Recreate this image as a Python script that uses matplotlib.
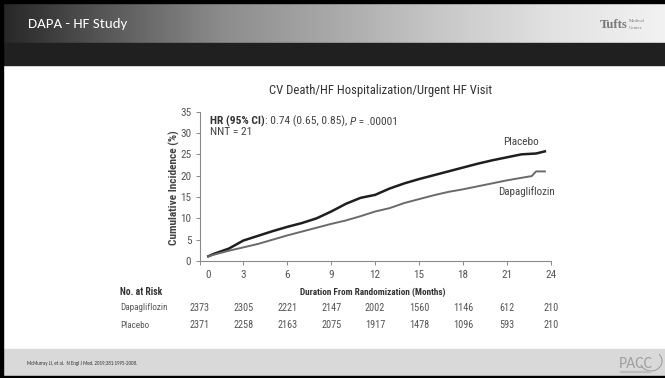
import numpy as np
import matplotlib
matplotlib.use("Agg")
import matplotlib.pyplot as plt
import matplotlib.transforms as mtransforms
from matplotlib import font_manager as fm
from matplotlib.colors import LinearSegmentedColormap
from matplotlib.patches import Rectangle, Arc

# ---- data -------------------------------------------------------------
months_placebo = [0.6, 1, 2, 3, 4, 5, 6, 7, 8, 9, 10, 11, 12, 13, 14, 15,
                  16, 17, 18, 19, 20, 21, 22, 23, 23.6]
placebo = [1.1, 1.7, 2.9, 4.8, 5.9, 7.0, 8.0, 8.9, 10.0, 11.6, 13.4, 14.8,
           15.5, 17.0, 18.2, 19.2, 20.1, 21.0, 21.9, 22.8, 23.6, 24.3,
           25.0, 25.2, 25.7]

months_dapa = [0.6, 1, 2, 3, 4, 5, 6, 7, 8, 9, 10, 11, 12, 13, 14, 15, 16,
               17, 18, 19, 20, 21, 22, 22.7, 23.0, 23.6]
dapagliflozin = [1.1, 1.5, 2.4, 3.2, 4.0, 5.0, 6.0, 6.9, 7.8, 8.7, 9.5, 10.5,
                 11.6, 12.4, 13.6, 14.5, 15.4, 16.2, 16.8, 17.5, 18.2, 18.9,
                 19.5, 19.9, 21.0, 21.0]

x_ticks = [0, 3, 6, 9, 12, 15, 18, 21, 24]
y_ticks = [0, 5, 10, 15, 20, 25, 30, 35]
risk_dapa = [2373, 2305, 2221, 2147, 2002, 1560, 1146, 612, 210]
risk_placebo = [2371, 2258, 2163, 2075, 1917, 1478, 1096, 593, 210]

# ---- fonts ------------------------------------------------------------
installed = {f.name for f in fm.fontManager.ttflist}


def pick(*cands):
    for c in cands:
        if c in installed:
            return [c, "DejaVu Sans"]
    return ["DejaVu Sans"]


COND = pick("Liberation Sans Narrow", "Roboto Condensed", "Archivo Narrow",
            "Asap Condensed", "Roboto")
SLIDE = pick("Carlito", "Calibri", "Lato", "Open Sans")
SERIF = pick("Liberation Serif", "DejaVu Serif")

# ---- figure -----------------------------------------------------------
W, H = 665, 378
fig = plt.figure(figsize=(W / 100, H / 100), dpi=100)
fig.patch.set_facecolor("white")
renderer = fig.canvas.get_renderer()


def fx(px):
    return px / W


def fy(py):
    return 1 - py / H


def fit(t, width_px):
    """Scale a text's font size so that it spans the given width."""
    w = t.get_window_extent(renderer).width
    if w > 0:
        t.set_fontsize(t.get_fontsize() * width_px / w)
    return t


# slide background layer
bg = fig.add_axes([0, 0, 1, 1], zorder=-5)
bg.set_xlim(0, W)
bg.set_ylim(H, 0)
bg.axis("off")

grad = LinearSegmentedColormap.from_list(
    "hdr", ["#262626", "#5a5a5a", "#8c8c8c", "#a9a9a9", "#c8c8c8",
            "#e2e2e2", "#f2f2f2"])
bg.imshow(np.linspace(0, 1, 256)[None, :], cmap=grad, aspect="auto",
          extent=(0, W, 43, 3), zorder=0)
bg.add_patch(Rectangle((0, 43), W, 22, color="#202020", zorder=1))
bg.add_patch(Rectangle((0, 0), W, 3, color="black", zorder=2))
bg.add_patch(Rectangle((0, 349), W, 27, color="#d9d9d9", zorder=1))
bg.add_patch(Rectangle((0, 376), W, 2, color="black", zorder=2))
bg.add_patch(Rectangle((0, 0), 3, H, color="black", zorder=2))

fit(bg.text(28, 24, "DAPA - HF Study", color="white", fontsize=11.5,
            family=SLIDE, va="center", ha="left"), 100)
fit(bg.text(600, 25, "Tufts", color="#7a7a7a", fontsize=9.5,
            fontweight="bold", family=SERIF, va="center", ha="left"), 28)
fit(bg.text(628.5, 21, "Medical", color="#7a7a7a", fontsize=3.6,
            family=SERIF, va="center", ha="left"), 16)
fit(bg.text(628.5, 28, "Center", color="#7a7a7a", fontsize=3.6,
            family=SERIF, va="center", ha="left"), 13)

fit(bg.text(27, 363, "McMurray JJ, et al.  N Engl J Med. 2019;381:1995-2008.",
            color="#333333", fontsize=3.8, family=SLIDE, va="center",
            ha="left"), 111)
fit(bg.text(619, 364, "PACC", color="#a0a0a0", fontsize=10, family=SLIDE,
            va="center", ha="left"), 34)
bg.add_patch(Arc((651, 361), 22, 20, theta1=-40, theta2=160,
                 color="#a0a0a0", lw=0.8, zorder=3))
bg.add_patch(Rectangle((620, 371), 30, 1.2, color="#bdbdbd", zorder=3))

# ---- chart ------------------------------------------------------------
x0, x24 = 199.5, 550.7
y0, y35 = 261.0, 111.7
ax = fig.add_axes([fx(x0), fy(y0), (x24 - x0) / W, (y0 - y35) / H])
ax.set_xlim(0, 24)
ax.set_ylim(0, 35)
ax.patch.set_alpha(0)

ax.plot(months_placebo, placebo, color="#1e1e1e", lw=1.8,
        solid_joinstyle="round")
ax.plot(months_dapa, dapagliflozin, color="#6a6a6a", lw=1.4,
        solid_joinstyle="round")

for side in ("top", "right"):
    ax.spines[side].set_visible(False)
for side in ("left", "bottom"):
    ax.spines[side].set_color("#8a8a8a")
    ax.spines[side].set_linewidth(0.8)

ax.set_xticks(x_ticks)
ax.set_yticks(y_ticks)
ax.set_xticklabels([str(v) for v in x_ticks])
ax.set_yticklabels([str(v) for v in y_ticks])
ax.tick_params(axis="both", direction="out", length=3, width=0.7,
               color="#8a8a8a", labelcolor="#555555", labelsize=8.0)
ax.tick_params(axis="x", pad=3.5)
ax.tick_params(axis="y", pad=3)
for lab in ax.get_xticklabels() + ax.get_yticklabels():
    lab.set_family(COND)

zero_lab = ax.get_xticklabels()[0]
zero_lab.set_transform(zero_lab.get_transform() +
                       mtransforms.ScaledTranslation(9 / 100, 0,
                                                     fig.dpi_scale_trans))

fit(fig.text(fx(381), fy(90.7), "CV Death/HF Hospitalization/Urgent HF Visit",
             ha="center", va="center", fontsize=9.5, color="#333333",
             family=COND), 222)
fig.text(fx(174), fy(188), "Cumulative Incidence (%)", rotation=90,
         ha="center", va="center", fontsize=8.2, color="#444444",
         family=COND, fontweight="semibold")

# hazard ratio line, assembled from styled pieces
hr_size = 8.0
pieces = [("HR (95% CI)", "bold", "normal", "#333333"),
          (": 0.74 (0.65, 0.85), ", "normal", "normal", "#444444"),
          ("P", "normal", "italic", "#444444"),
          (" = .00001", "normal", "normal", "#444444")]


def draw_hr(size):
    objs = []
    x = fx(210)
    for s, wt, st, c in pieces:
        t = fig.text(x, fy(121.7), s, ha="left", va="center", fontsize=size,
                     color=c, family=COND, fontweight=wt, style=st)
        x = t.get_window_extent(renderer).x1 / W
        objs.append(t)
    return objs, x * W - 210


objs, total = draw_hr(hr_size)
for t in objs:
    t.remove()
hr_size *= 188 / total
draw_hr(hr_size)
fig.text(fx(210), fy(131.7), "NNT = 21", ha="left", va="center",
         fontsize=hr_size, color="#444444", family=COND)

lab_p = fig.text(fx(521), fy(141.7), "Placebo", ha="center", va="center",
                 fontsize=7.5, color="#444444", family=COND)
fit(lab_p, 36)
lab_d = fig.text(fx(526.5), fy(191.7), "Dapagliflozin", ha="center",
                 va="center", fontsize=7.5, color="#444444", family=COND)
fit(lab_d, 57)

fit(fig.text(fx(373), fy(292), "Duration From Randomization (Months)",
             ha="center", va="center", fontsize=7, color="#333333",
             family=COND, fontweight="bold"), 147)
fit(fig.text(fx(120), fy(292), "No. at Risk", ha="left", va="center",
             fontsize=7, color="#333333", family=COND, fontweight="bold"), 42)

blend = mtransforms.blended_transform_factory(ax.transData, fig.transFigure)
row_size = fit(fig.text(fx(120), fy(307.7), "Dapagliflozin", ha="left",
                        va="center", fontsize=7, color="#5a5a5a",
                        family=COND), 48).get_fontsize()
fig.text(fx(120), fy(325), "Placebo", ha="left", va="center",
         fontsize=row_size, color="#5a5a5a", family=COND)
num_size = fit(fig.text(0, 0, "2373", fontsize=7, family=COND),
               20.7).get_fontsize()
fig.texts[-1].remove()
for counts, py in ((risk_dapa, 307.7), (risk_placebo, 325)):
    for m, n in zip(x_ticks, counts):
        ax.text(m, fy(py), str(n), transform=blend, ha="center",
                va="center", fontsize=num_size, color="#555555",
                family=COND)

fig.savefig("out.png", dpi=100, facecolor="white")
